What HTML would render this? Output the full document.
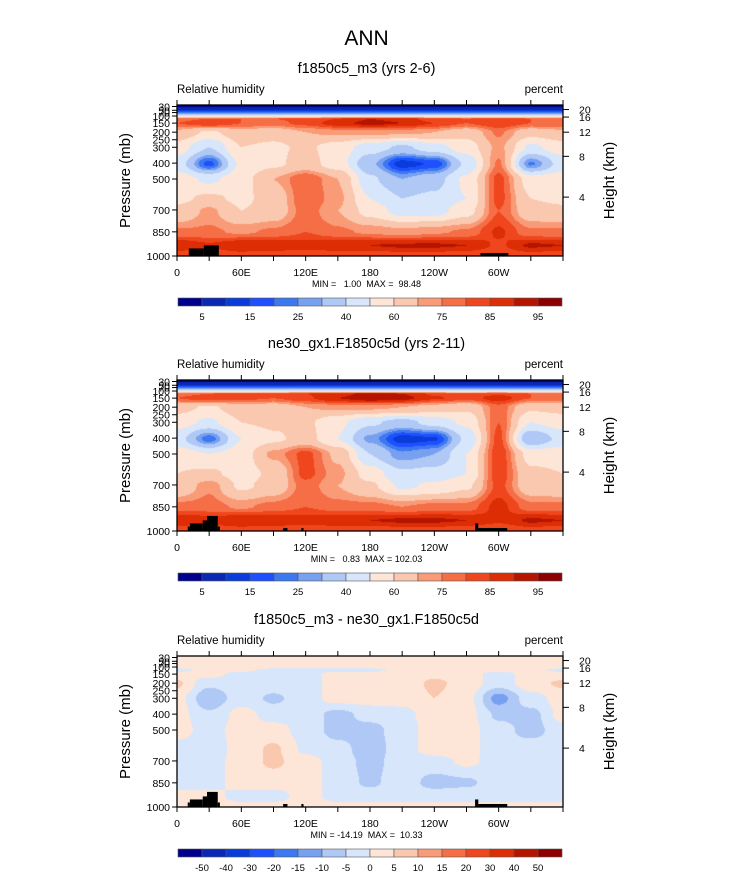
<!DOCTYPE html>
<html><head><meta charset="utf-8">
<style>
body{margin:0;background:#fff;width:733px;height:888px;overflow:hidden;font-family:"Liberation Sans",sans-serif;}
#wrap{position:relative;width:733px;height:888px;}
canvas{position:absolute;}
svg{position:absolute;left:0;top:0;}
text{white-space:pre;}
</style></head>
<body>
<div id="wrap">
<svg id="ov" width="733" height="888"></svg>
</div>
<script>
// ---- data ----
const lonCols=[0,30,60,90,120,150,180,210,240,270,300,330,360];
const rowFrac=[0,0.03,0.055,0.075,0.09,0.12,0.18,0.28,0.39,0.49,0.62,0.70,0.84,0.93,1.0];
const rhLevels=[5,10,15,20,25,30,40,50,60,70,75,80,85,90,95];
const rhLabels=["5","15","25","40","60","75","85","95"];
const diffLevels=[-50,-40,-30,-20,-15,-10,-5,0,5,10,15,20,30,40,50];
const diffLabels=["-50","-40","-30","-20","-15","-10","-5","0","5","10","15","20","30","40","50"];
const colors=["#00008c","#0a28b4","#0a3cdc","#1e50ff","#3c78f0","#78a0f0","#afc8f5","#d7e6fa","#fde6d7","#fac8af","#fa9b78","#f56e46","#f0461e","#dc2d05","#b41400","#8c0000"];
const field1=[
[1,1,1,1,1,1,1,1,1,1,1,1,1],
[8,8,8,8,8,8,8,8,8,8,8,8,8],
[25,25,25,25,25,25,25,25,25,25,25,25,25],
[55,55,55,55,55,55,55,55,55,55,55,55,55],
[78,80,80,80,82,85,90,88,82,80,82,80,78],
[80,85,80,78,82,88,92,90,85,80,85,80,80],
[68,58,66,64,70,72,72,72,70,64,76,64,68],
[55,40,60,58,62,55,45,38,46,55,72,48,55],
[45,18,52,58,64,55,32,12,16,42,76,24,45],
[55,48,56,70,80,70,42,30,36,52,82,55,55],
[58,62,58,64,80,72,50,40,42,50,82,60,58],
[62,72,60,64,78,70,56,46,46,56,80,64,62],
[76,76,74,76,80,76,74,72,74,76,86,76,76],
[90,86,90,90,88,90,90,91,91,90,84,91,90],
[80,80,82,80,80,80,80,82,82,80,80,82,80]];
const field2=[
[1,1,1,1,1,1,1,1,1,1,1,1,1],
[8,8,8,8,8,8,8,8,8,8,8,8,8],
[25,25,25,25,25,25,25,25,25,25,25,25,25],
[55,55,55,55,55,55,55,55,55,55,55,55,55],
[78,80,82,82,85,88,92,90,84,82,84,80,78],
[80,84,82,80,84,90,94,92,86,82,88,80,80],
[64,58,66,64,70,72,72,70,66,62,78,62,64],
[54,48,60,62,62,52,42,36,44,52,80,50,54],
[44,22,50,58,64,50,28,12,14,42,82,30,44],
[56,50,55,72,82,68,40,26,30,50,84,56,56],
[60,62,56,62,82,72,55,42,44,50,84,62,60],
[62,74,58,64,78,70,62,48,52,58,82,64,62],
[77,77,74,77,80,77,77,75,77,77,87,77,77],
[90,88,90,90,88,90,90,91,91,90,86,91,90],
[80,80,82,80,80,80,80,82,82,80,80,82,80]];
const field3=[
[2,2,2,2,2,2,2,2,2,2,2,2,2],
[2,2,2,2,2,2,2,2,2,2,2,2,2],
[2,2,2,2,2,2,2,2,2,2,2,2,2],
[2,2,2,2,2,2,2,2,2,2,2,2,2],
[-2,2,2,-2,-2,-2,-2,2,2,2,2,2,-2],
[2,2,-2,-2,-2,2,2,2,4,2,-2,2,2],
[6,-4,-2,-2,-2,2,2,2,6,3,-3,3,6],
[2,-9,-2,-6,-2,2,2,2,5,2,-12,-2,2],
[2,-4,2,-2,-2,-7,-3,-2,3,2,-6,-7,2],
[2,-2,2,2,-2,-7,-7,-2,2,2,-3,-7,-2],
[-2,-3,2,6,-1,-3,-8,-2,2,2,-3,-2,-2],
[-2,-2,2,6,2,-2,-7,-2,-2,1,-2,-2,-2],
[-2,-2,2,2,2,-2,-6,-2,-7,-6,-2,-2,-2],
[2,2,-2,-2,2,-2,-2,-2,-2,-2,-2,-2,-2],
[2,2,2,2,2,2,2,2,2,2,2,2,2]];
const terrain1=[[11,25,0.95],[25,39,0.93],[283,309,0.98]];
const terrain23=[[10,12,0.97],[12,24,0.95],[24,28,0.93],[28,38,0.90],[38,40,0.97],[99,103,0.98],[116,118,0.98],[278,281,0.95],[281,308,0.98]];
const xTickLabels=["0","60E","120E","180","120W","60W"];
const pLabels=[["1000",1.0],["850",0.84],["700",0.695],["500",0.49],["400",0.385],["300",0.28],["250",0.23],["200",0.18],["150",0.12],["100",0.073],["70",0.05],["50",0.035],["30",0.01]];
const hLabels=[["20",0.03],["16",0.08],["12",0.18],["8",0.34],["4",0.61]];

const PX=177,PW=386,PH=151;
const panels=[
 {top:105,field:field1,levels:rhLevels,terrain:terrain1,title:"f1850c5_m3 (yrs 2-6)",mm:"MIN =   1.00  MAX =  98.48",labels:rhLabels,alt:true},
 {top:380,field:field2,levels:rhLevels,terrain:terrain23,title:"ne30_gx1.F1850c5d (yrs 2-11)",mm:"MIN =   0.83  MAX = 102.03",labels:rhLabels,alt:true},
 {top:656,field:field3,levels:diffLevels,terrain:terrain23,title:"f1850c5_m3 - ne30_gx1.F1850c5d",mm:"MIN = -14.19  MAX =  10.33",labels:diffLabels,alt:false}];

function xs(lon){return PX+lon/360*PW;}
function val(field,lon,f){
 let c=Math.min(11,Math.floor(lon/30)); let tx=(lon-lonCols[c])/30;
 let r=0; while(r<rowFrac.length-2 && f>rowFrac[r+1]) r++;
 let ty=(f-rowFrac[r])/(rowFrac[r+1]-rowFrac[r]);
 const sx=tx*tx*(3-2*tx), sy=ty*ty*(3-2*ty);
 const a=field[r][c],b=field[r][c+1],d=field[r+1][c],e=field[r+1][c+1];
 return (a*(1-sx)+b*sx)*(1-sy)+(d*(1-sx)+e*sx)*sy;
}
function lvl(v,levels){let i=0;while(i<levels.length&&v>=levels[i])i++;return i;}
const NS="http://www.w3.org/2000/svg";
const ov=document.getElementById('ov');
function el(tag,attrs,parent){const e=document.createElementNS(NS,tag);for(const k in attrs)e.setAttribute(k,attrs[k]);(parent||ov).appendChild(e);return e;}
function txt(x,y,s,size,anchor,parent){const t=el('text',{x:x,y:y,'font-size':size,'text-anchor':anchor||'middle','font-family':'Liberation Sans, sans-serif',fill:'#000'},parent);t.textContent=s;return t;}

const ann=txt(366.5,45,"ANN",21);



panels.forEach((p,pi)=>{
 const cv=document.createElement('canvas');
 cv.width=PW;cv.height=PH;cv.style.left=PX+'px';cv.style.top=p.top+'px';
 
 
 document.getElementById('wrap').insertBefore(cv,ov);
 const ctx=cv.getContext('2d');const img=ctx.createImageData(PW,PH);
 const rgb=colors.map(c=>[parseInt(c.substr(1,2),16),parseInt(c.substr(3,2),16),parseInt(c.substr(5,2),16)]);
 for(let y=0;y<PH;y++)for(let x=0;x<PW;x++){
  const v=val(p.field,(x+0.5)/PW*360,(y+0.5)/PH);const c=rgb[lvl(v,p.levels)];
  const i=(y*PW+x)*4;img.data[i]=c[0];img.data[i+1]=c[1];img.data[i+2]=c[2];img.data[i+3]=255;}
 ctx.putImageData(img,0,0);
 const g=el('g',{});
 
 
 const T=p.top,B=p.top+PH;
 p.terrain.forEach(t=>{
  const r=el('rect',{x:xs(t[0]),y:T+t[2]*PH,width:xs(t[1])-xs(t[0]),height:B-(T+t[2]*PH),fill:'#000'},g);
  
  
 });
 el('rect',{x:PX,y:T,width:PW,height:PH,fill:'none',stroke:'#000','stroke-width':1.3},g);
 const tt=txt(366.5,T-32,p.title,14.5,'middle',g);
 
 
 txt(PX,T-12,"Relative humidity",11.5,'start',g);
 txt(PX+PW,T-12,"percent",11.5,'end',g);
 for(let lon=0;lon<=360;lon+=30){
  el('line',{x1:xs(lon),x2:xs(lon),y1:T,y2:T-5,stroke:'#000'},g);
  el('line',{x1:xs(lon),x2:xs(lon),y1:B,y2:B+5,stroke:'#000'},g);
 }
 xTickLabels.forEach((s,i)=>txt(xs(i*60),B+20,s,10.5,'middle',g));
 txt(366.5,B+31,p.mm,9,'middle',g);
 pLabels.forEach(l=>{const y=T+l[1]*PH;el('line',{x1:PX,x2:PX-5,y1:y,y2:y,stroke:'#000'},g);txt(PX-7,y+4,l[0],10.5,'end',g);});
 hLabels.forEach(l=>{const y=T+l[1]*PH;el('line',{x1:PX+PW,x2:PX+PW+6,y1:y,y2:y,stroke:'#000'},g);txt(PX+PW+16,y+4,l[0],10.5,'start',g);});
 const yl=txt(0,0,"Pressure (mb)",15,'middle',g);yl.setAttribute('transform',`translate(130,${T+PH/2}) rotate(-90)`);
 
 
 const hl=txt(0,0,"Height (km)",15,'middle',g);hl.setAttribute('transform',`translate(614,${T+PH/2}) rotate(-90)`);
 
 
 const cb=el('g',{},g);
 
 
 const cy=B+42,cw=384/16;
 colors.forEach((c,i)=>el('rect',{x:178+i*cw,y:cy,width:cw,height:8,fill:c,stroke:'#555','stroke-width':0.6},cb));
 p.levels.forEach((lv,i)=>{
  let lab=null;
  if(p.alt){if(i%2===0)lab=p.labels[i/2];} else lab=p.labels[i];
  if(lab!==null)txt(178+(i+1)*cw,cy+22,lab,9.5,'middle',cb);
 });
});
</script>
</body></html>
